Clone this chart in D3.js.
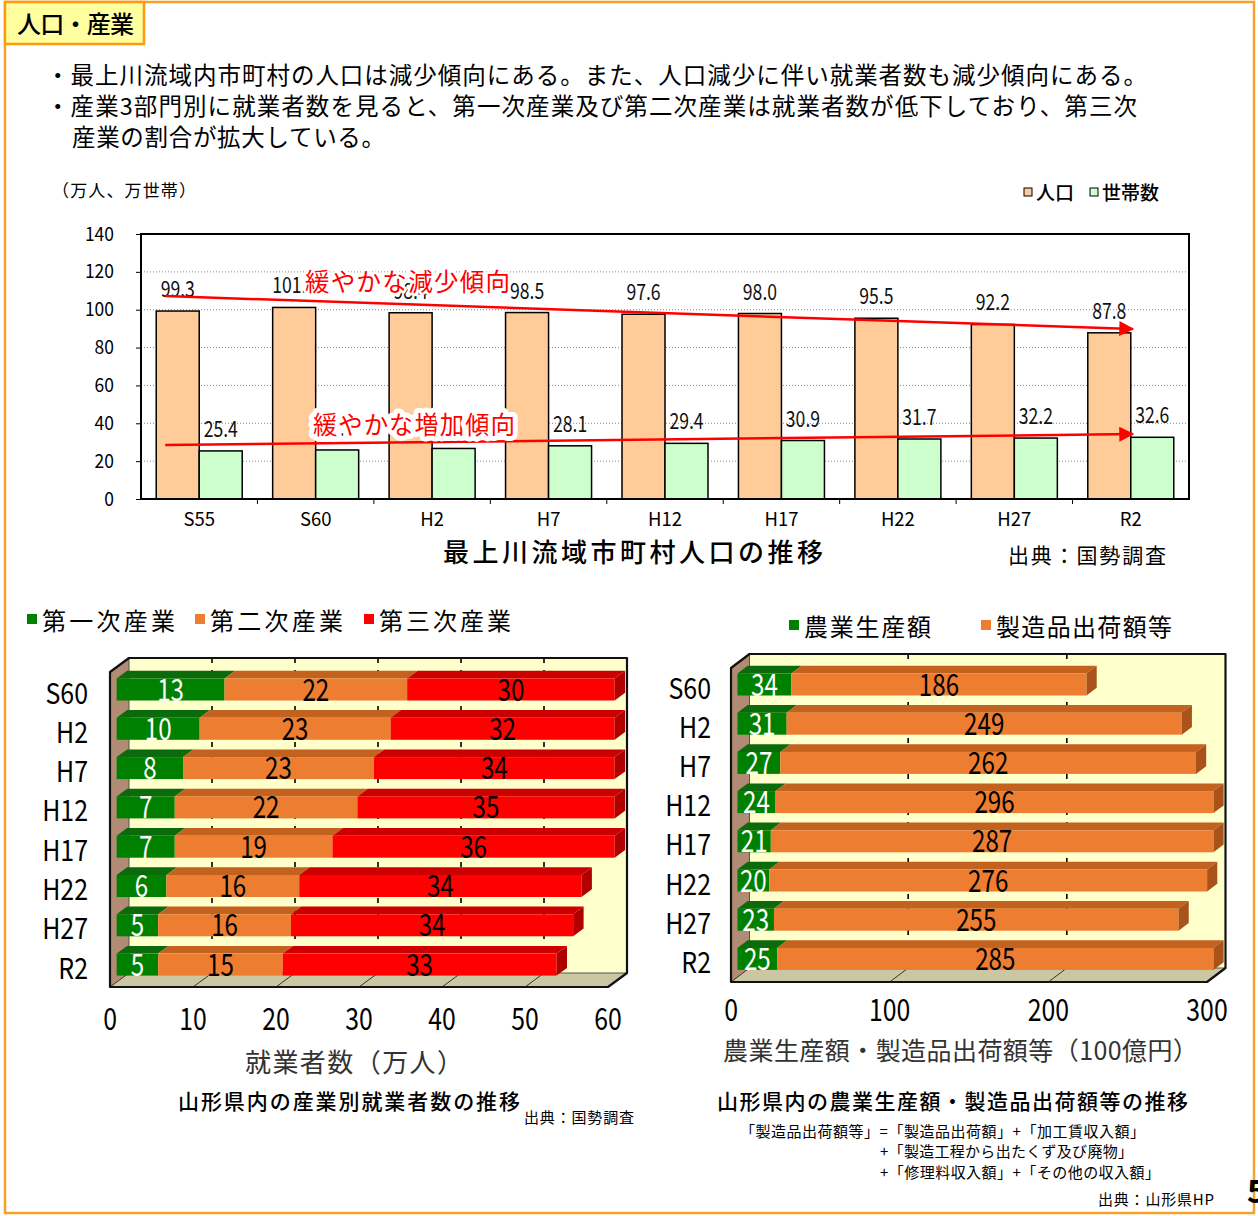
<!DOCTYPE html>
<html>
<head>
<meta charset="utf-8">
<script src="https://cdn.jsdelivr.net/npm/d3@7"></script>
<style>
  body { margin: 0; background: #fff; }
  svg { display: block; }
  text { font-family: "Noto Sans CJK JP", "Noto Sans", sans-serif; }
</style>
</head>
<body>
<svg id="page" width="1258" height="1216"></svg>
<script>
// ---- 人口・世帯数 (万人、万世帯) ----
const censusYears = ["S55", "S60", "H2", "H7", "H12", "H17", "H22", "H27", "R2"];
const population  = [99.3, 101.2, 98.4, 98.5, 97.6, 98.0, 95.5, 92.2, 87.8];
const households  = [25.4, 25.9, 26.7, 28.1, 29.4, 30.9, 31.7, 32.2, 32.6];
const popTicks    = [0, 20, 40, 60, 80, 100, 120, 140];

// trend arrows (start year / end year, value level)
const popTrend = [{ year: "S55", v: 107.2 }, { year: "R2", v: 89.8 }];
const hhTrend  = [{ year: "S55", v: 28.5 },  { year: "R2", v: 34.3 }];

// ---- 産業別就業者数 (万人) ----
const workYears = ["S60", "H2", "H7", "H12", "H17", "H22", "H27", "R2"];
const primaryInd   = [13, 10, 8, 7, 7, 6, 5, 5];
const secondaryInd = [22, 23, 23, 22, 19, 16, 16, 15];
const tertiaryInd  = [30, 32, 34, 35, 36, 34, 34, 33];
const workTicks = [0, 10, 20, 30, 40, 50, 60];

// ---- 農業生産額・製造品出荷額等 (100億円) ----
const outputYears  = ["S60", "H2", "H7", "H12", "H17", "H22", "H27", "R2"];
const agriOutput   = [34, 31, 27, 24, 21, 20, 23, 25];
const mfgShipments = [186, 249, 262, 296, 287, 276, 255, 285];
const outputTicks  = [0, 100, 200, 300];

const svg = d3.select("#page");
const JP = '"Noto Sans CJK JP", sans-serif';
const NARROW = 'Roboto, "Liberation Sans", sans-serif';
const MONO = '"DejaVu Sans Mono", "Liberation Mono", monospace';

// condensed text (horizontal squeeze)
function narrowText(g, x, y, str, size, anchor, sx, fill) {
  return g.append("text")
    .attr("transform", `translate(${x},${y}) scale(${sx},1)`)
    .attr("text-anchor", anchor)
    .attr("font-family", NARROW)
    .attr("font-size", size)
    .attr("fill", fill || "#000")
    .text(str);
}
function jpText(x, y, str, size, opts = {}) {
  const t = svg.append("text")
    .attr("x", x).attr("y", y)
    .attr("font-size", size)
    .attr("font-family", JP)
    .attr("fill", opts.fill || "#000")
    .attr("font-weight", opts.weight || 400)
    .attr("text-anchor", opts.anchor || "start")
    .text(str);
  if (opts.len) t.attr("textLength", opts.len).attr("lengthAdjust", "spacing");
  return t;
}

// ---------- page frame ----------
svg.append("rect").attr("x", 5).attr("y", 2).attr("width", 1249).attr("height", 1211)
  .attr("fill", "none").attr("stroke", "#f6a12a").attr("stroke-width", 2.5);
svg.append("rect").attr("x", 5).attr("y", 2).attr("width", 139).attr("height", 42)
  .attr("fill", "#ffffa0").attr("stroke", "#ff9a10").attr("stroke-width", 2.5);
jpText(17, 33, "人口・産業", 24, { len: 117, weight: 500 });

jpText(46, 84, "・最上川流域内市町村の人口は減少傾向にある。また、人口減少に伴い就業者数も減少傾向にある。", 23.5, { len: 1101 });
jpText(46, 115, "・産業3部門別に就業者数を見ると、第一次産業及び第二次産業は就業者数が低下しており、第三次", 23.5, { len: 1091 });
jpText(72, 146, "産業の割合が拡大している。", 23.5, { len: 313 });

// page number at the right edge
svg.append("text").attr("x", 1247).attr("y", 1203).attr("font-size", 32)
  .attr("font-family", '"Liberation Sans", sans-serif').attr("font-weight", 700).text("5");

// ---------- population / households bar chart ----------
const plot = { left: 141, right: 1189, top: 234, bottom: 499 };
const xPop = d3.scaleBand().domain(censusYears).range([plot.left, plot.right]);
const yPop = d3.scaleLinear().domain([0, 140]).range([plot.bottom, plot.top]);
const barW = 43;
const gTop = svg.append("g");

// dotted gridlines
gTop.selectAll("line.grid").data(popTicks.filter(t => t > 0 && t < 140)).join("line")
  .attr("x1", plot.left).attr("x2", plot.right)
  .attr("y1", d => yPop(d)).attr("y2", d => yPop(d))
  .attr("stroke", "#8a8a8a").attr("stroke-width", 1).attr("stroke-dasharray", "1,2");

// y axis
const yAx = gTop.append("g").attr("transform", `translate(${plot.left},0)`)
  .call(d3.axisLeft(yPop).tickValues(popTicks).tickSize(5).tickPadding(22));
yAx.select(".domain").remove();
yAx.selectAll("line").attr("stroke", "#000");
yAx.selectAll("text").attr("font-size", 19).attr("font-family", NARROW).attr("fill", "#000")
  .attr("transform", "scale(0.92,1)").attr("x", -27 / 0.92);

// x axis
const xAx = gTop.append("g").attr("transform", `translate(0,${plot.bottom})`)
  .call(d3.axisBottom(xPop).tickSize(0).tickPadding(14));
xAx.select(".domain").remove();
xAx.selectAll("text").attr("font-size", 18.5).attr("font-family", NARROW).attr("fill", "#000");
gTop.selectAll("line.xtick").data(censusYears.slice(1)).join("line")
  .attr("x1", d => xPop(d)).attr("x2", d => xPop(d))
  .attr("y1", plot.bottom).attr("y2", plot.bottom + 5).attr("stroke", "#000");

const center = d => xPop(d) + xPop.bandwidth() / 2;
const fmt1 = d3.format(".1f");

// bars
gTop.selectAll("rect.pop").data(censusYears).join("rect")
  .attr("x", d => center(d) - barW).attr("width", barW)
  .attr("y", (d, i) => yPop(population[i]))
  .attr("height", (d, i) => yPop(0) - yPop(population[i]))
  .attr("fill", "#ffcc99").attr("stroke", "#000").attr("stroke-width", 1.5);
gTop.selectAll("rect.hh").data(censusYears).join("rect")
  .attr("x", d => center(d)).attr("width", barW)
  .attr("y", (d, i) => yPop(households[i]))
  .attr("height", (d, i) => yPop(0) - yPop(households[i]))
  .attr("fill", "#ccffcc").attr("stroke", "#000").attr("stroke-width", 1.5);

// frame
gTop.append("rect").attr("x", plot.left).attr("y", plot.top)
  .attr("width", plot.right - plot.left).attr("height", plot.bottom - plot.top)
  .attr("fill", "none").attr("stroke", "#000").attr("stroke-width", 2);

// value labels (half-width digits, wide dot)
function valueLabel(x, v) {
  return gTop.append("text")
    .attr("transform", `translate(${x},${yPop(v) - 14}) scale(0.8,1)`)
    .attr("text-anchor", "middle")
    .attr("font-family", MONO).attr("font-size", 22)
    .attr("fill", "#111")
    .text(fmt1(v));
}
censusYears.forEach((d, i) => {
  valueLabel(center(d) - barW / 2, population[i]);
  valueLabel(center(d) + barW / 2, households[i]);
});

// trend arrows
const defs = svg.append("defs");
defs.append("marker").attr("id", "arrowRed").attr("viewBox", "0 0 10 10")
  .attr("refX", 9).attr("refY", 5).attr("markerWidth", 7).attr("markerHeight", 6)
  .attr("markerUnits", "strokeWidth").attr("orient", "auto")
  .append("path").attr("d", "M0,0 L10,5 L0,10 Z").attr("fill", "#ff0000");

function trendArrow(pts, label, lx, ly, len, halo) {
  gTop.append("line")
    .attr("x1", center(pts[0].year) - 34).attr("y1", yPop(pts[0].v))
    .attr("x2", center(pts[1].year) + 2).attr("y2", yPop(pts[1].v))
    .attr("stroke", "#ff0000").attr("stroke-width", 2.5)
    .attr("marker-end", "url(#arrowRed)");
  gTop.append("text").attr("x", lx).attr("y", ly)
    .attr("font-size", 24.5).attr("font-family", JP).attr("fill", "#ff0000")
    .attr("textLength", len).attr("lengthAdjust", "spacing")
    .attr("stroke", "#fff").attr("stroke-width", halo).attr("stroke-linejoin", "round")
    .attr("paint-order", "stroke")
    .text(label);
}
trendArrow(popTrend, "緩やかな減少傾向", 305, 291, 205, 5);
trendArrow(hhTrend, "緩やかな増加傾向", 313, 434, 202, 10);

// legend + unit
jpText(52, 197, "（万人、万世帯）", 17, { len: 144 });
svg.append("rect").attr("x", 1024).attr("y", 188).attr("width", 8).attr("height", 8)
  .attr("fill", "#ffcc99").attr("stroke", "#000").attr("stroke-width", 1);
jpText(1036, 200, "人口", 19, { weight: 500 });
svg.append("rect").attr("x", 1090).attr("y", 188).attr("width", 8).attr("height", 8)
  .attr("fill", "#ccffcc").attr("stroke", "#000").attr("stroke-width", 1);
jpText(1102, 200, "世帯数", 19, { weight: 500 });

jpText(443, 562, "最上川流域市町村人口の推移", 26, { len: 380, weight: 500 });
jpText(1008, 563, "出典：国勢調査", 21, { len: 158 });

// ---------- 3D stacked horizontal bar charts ----------
function draw3D(cfg) {
  const g = svg.append("g");
  const xF = d3.scaleLinear().domain([0, cfg.max]).range([cfg.fx0, cfg.fx1]);
  const { dx, dy } = cfg;
  const backTop = cfg.wallTop, backBottom = cfg.floorY + dy;
  const bx0 = xF(0) + dx, bx1 = xF(cfg.max) + dx;

  // back wall
  g.append("rect").attr("x", bx0).attr("y", backTop).attr("width", bx1 - bx0)
    .attr("height", backBottom - backTop).attr("fill", "#ffffcc");
  // left wall
  g.append("path").attr("d",
    `M${xF(0)},${backTop - dy} L${bx0},${backTop} L${bx0},${backBottom} L${xF(0)},${cfg.floorY} Z`)
    .attr("fill", "#b08c74");
  // floor
  g.append("path").attr("d",
    `M${xF(0)},${cfg.floorY} L${xF(cfg.max)},${cfg.floorY} L${bx1},${backBottom} L${bx0},${backBottom} Z`)
    .attr("fill", "#cbc7a3");
  // dashed gridlines on back wall
  g.selectAll("line.grid").data(cfg.ticks.filter(t => t > 0 && t < cfg.max)).join("line")
    .attr("x1", d => xF(d) + dx).attr("x2", d => xF(d) + dx)
    .attr("y1", backTop).attr("y2", backBottom)
    .attr("stroke", "#000").attr("stroke-width", 1.6).attr("stroke-dasharray", "5,7");
  // floor tick lines
  g.selectAll("line.ftick").data(cfg.ticks).join("line")
    .attr("x1", d => xF(d)).attr("y1", cfg.floorY)
    .attr("x2", d => xF(d) + dx).attr("y2", backBottom)
    .attr("stroke", "#333").attr("stroke-width", 1);
  g.append("line").attr("x1", bx0).attr("x2", bx0).attr("y1", backTop).attr("y2", backBottom)
    .attr("stroke", "#555").attr("stroke-width", 1);
  g.append("line").attr("x1", bx0).attr("x2", bx1).attr("y1", backBottom).attr("y2", backBottom)
    .attr("stroke", "#555").attr("stroke-width", 1);

  // bars
  const p0 = 0.35, p1 = 0.9;
  const ox = p0 * dx;
  const tx = (p1 - p0) * dx, ty = (p1 - p0) * dy;
  const yRow = d3.scalePoint().domain(cfg.rows).range([cfg.row0, cfg.row0 + (cfg.rows.length - 1) * cfg.rowStep]);
  const h = cfg.barH;
  const xMax = cfg.max;

  cfg.rows.forEach((r, i) => {
    const cy = yRow(r);
    const y0 = cy - h / 2, y1 = cy + h / 2;
    let acc = 0;
    const segs = cfg.series.map(s => {
      const a = Math.min(acc, xMax), b = Math.min(acc + s.values[i], xMax);
      acc += s.values[i];
      return { s, a, b, v: s.values[i] };
    }).filter(q => q.b > q.a);
    segs.forEach((q, k) => {
      const xa = xF(q.a) + ox, xb = xF(q.b) + ox;
      // top face
      g.append("path").attr("d",
        `M${xa},${y0} L${xb},${y0} L${xb + tx},${y0 + ty} L${xa + tx},${y0 + ty} Z`)
        .attr("fill", q.s.top);
      // front face
      g.append("rect").attr("x", xa).attr("y", y0).attr("width", xb - xa).attr("height", h)
        .attr("fill", q.s.front);
      // end face
      if (k === segs.length - 1) {
        g.append("path").attr("d",
          `M${xb},${y0} L${xb + tx},${y0 + ty} L${xb + tx},${y1 + ty} L${xb},${y1} Z`)
          .attr("fill", q.s.side);
      }
      narrowText(g, (xa + xb) / 2, cy + 11, q.v, 31, "middle", 0.78, q.s.text);
    });
    narrowText(g, cfg.labelRight, cy + cfg.labelDy, r, 29, "end", 0.86);
  });

  // outline
  g.append("path").attr("d",
    `M${xF(0)},${cfg.floorY} L${xF(0)},${backTop - dy} L${bx0},${backTop} L${bx1},${backTop} ` +
    `L${bx1},${backBottom} L${xF(cfg.max)},${cfg.floorY} Z`)
    .attr("fill", "none").attr("stroke", "#111").attr("stroke-width", 2.2).attr("stroke-linejoin", "round");

  // axis labels
  cfg.ticks.forEach(t => narrowText(g, xF(t), cfg.tickY, t, 31, "middle", 0.8));
  return g;
}

draw3D({
  rows: workYears, max: 60, ticks: workTicks,
  fx0: 110, fx1: 608, dx: 19, dy: -14, wallTop: 658, floorY: 987,
  row0: 689.5, rowStep: 39.3, barH: 22, labelRight: 88, labelDy: 14, tickY: 1030,
  series: [
    { values: primaryInd,   front: "#008000", top: "#0b6a0b", side: "#005a00", text: "#fff" },
    { values: secondaryInd, front: "#ed7d31", top: "#c3611f", side: "#b05518", text: "#000" },
    { values: tertiaryInd,  front: "#ff0000", top: "#cc0000", side: "#b00000", text: "#000" }
  ]
});

draw3D({
  rows: outputYears, max: 300, ticks: outputTicks,
  fx0: 731, fx1: 1207, dx: 18.5, dy: -14, wallTop: 654, floorY: 982,
  row0: 684.5, rowStep: 39.2, barH: 22, labelRight: 711, labelDy: 14, tickY: 1021,
  series: [
    { values: agriOutput,   front: "#008000", top: "#0b6a0b", side: "#005a00", text: "#fff" },
    { values: mfgShipments, front: "#ed7d31", top: "#c3611f", side: "#a9521a", text: "#000" }
  ]
});

// legends for the 3D charts
function legendItem(x, y, color, label, len) {
  svg.append("rect").attr("x", x).attr("y", y - 16).attr("width", 10).attr("height", 10).attr("fill", color);
  jpText(x + 15, y, label, 24, { len });
}
legendItem(27, 630, "#008000", "第一次産業", 133);
legendItem(195, 630, "#ed7d31", "第二次産業", 133);
legendItem(364, 630, "#ff0000", "第三次産業", 132);
legendItem(789, 636, "#008000", "農業生産額", 127);
legendItem(981, 636, "#ed7d31", "製造品出荷額等", 176);

// axis titles and captions
jpText(245, 1072, "就業者数（万人）", 26, { len: 218, fill: "#333" });
jpText(723, 1060, "農業生産額・製造品出荷額等（100億円）", 25, { len: 475, fill: "#333" });
jpText(178, 1109, "山形県内の産業別就業者数の推移", 21, { len: 342, weight: 500 });
jpText(524, 1123, "出典：国勢調査", 15, { len: 110 });
jpText(717, 1109, "山形県内の農業生産額・製造品出荷額等の推移", 21, { len: 471, weight: 500 });
jpText(740, 1137, "「製造品出荷額等」=「製造品出荷額」+「加工賃収入額」", 15, { len: 405 });
jpText(880, 1157, "+「製造工程から出たくず及び廃物」", 15, { len: 253 });
jpText(880, 1178, "+「修理料収入額」+「その他の収入額」", 15, { len: 280 });
jpText(1098, 1205, "出典：山形県HP", 15, { len: 116 });
</script>
</body>
</html>
